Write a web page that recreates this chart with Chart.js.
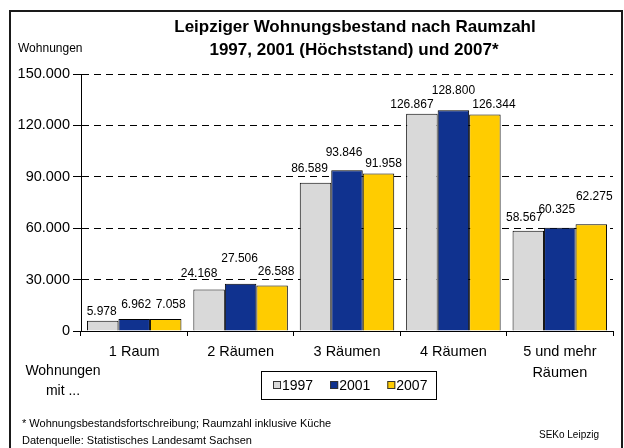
<!DOCTYPE html>
<html>
<head>
<meta charset="utf-8">
<script src="https://cdn.jsdelivr.net/npm/chart.js@4.4.1/dist/chart.umd.min.js"></script>
<style>
  html, body { margin: 0; padding: 0; background: #fff; }
  #wrap { width: 624px; height: 448px; }
</style>
</head>
<body>
<div id="wrap"><canvas id="roomChart" width="624" height="448"></canvas></div>
<script>
// data
const categories = ["1 Raum", "2 Räumen", "3 Räumen", "4 Räumen", ["5 und mehr", "Räumen"]];
const years = ["1997", "2001", "2007"];
const values1997 = [5978, 24168, 86589, 126867, 58567];
const values2001 = [6962, 27506, 93846, 128800, 60325];
const values2007 = [7058, 26588, 91958, 126344, 62275];
const yTicks = [0, 30000, 60000, 90000, 120000, 150000];

const FONT = "'Liberation Sans', Arial, sans-serif";
const colors = ["#d9d9d9", "#10328f", "#ffcc00"];

// label nudges (dx, dy from bar top centre), Excel places them a bit unevenly
const labelNudge = [
  [[-1, -9], [-10, -16], [-6, -14], [-10, -9], [-4, -13]],
  [[2, -14], [-1, -25], [-3, -18], [0, -20], [-3, -18]],
  [[5, -14], [4, -14], [5, -10], [9, -10], [3, -28]],
];

// german thousands separator
function fmt(v) {
  return String(v).replace(/\B(?=(\d{3})+(?!\d))/g, ".");
}

//#region plugins
const framePlugin = {
  id: "frame",
  beforeDraw(chart) {
    const ctx = chart.ctx;
    ctx.save();
    ctx.fillStyle = "#fff";
    ctx.fillRect(0, 0, chart.width, chart.height);
    ctx.restore();
  },
  afterDraw(chart) {
    const ctx = chart.ctx;
    ctx.save();

    // outer frame
    ctx.strokeStyle = "#1a1a1a";
    ctx.lineWidth = 2;
    ctx.strokeRect(10, 11, 612, 470);

    ctx.fillStyle = "#000";
    ctx.textBaseline = "middle";

    // title
    ctx.font = "bold 17px " + FONT;
    ctx.textAlign = "center";
    ctx.fillText("Leipziger Wohnungsbestand nach Raumzahl", 355, 27);
    ctx.fillText("1997, 2001 (Höchststand) und 2007*", 354, 50);

    // axis title
    ctx.font = "12px " + FONT;
    ctx.textAlign = "left";
    ctx.fillText("Wohnungen", 18, 49);

    ctx.font = "14px " + FONT;
    ctx.textAlign = "center";
    ctx.fillText("Wohnungen", 63, 371);
    ctx.fillText("mit ...", 63, 391);

    // footnotes
    ctx.font = "11px " + FONT;
    ctx.textAlign = "left";
    ctx.fillText("* Wohnungsbestandsfortschreibung; Raumzahl inklusive Küche", 22, 424);
    ctx.fillText("Datenquelle: Statistisches Landesamt Sachsen", 22, 441);
    ctx.font = "10px " + FONT;
    ctx.textAlign = "right";
    ctx.fillText("SEKo Leipzig", 599, 435);

    // legend box
    ctx.strokeStyle = "#000";
    ctx.lineWidth = 1;
    ctx.strokeRect(261.5, 371.5, 175, 28);
    ctx.font = "14px " + FONT;
    ctx.textAlign = "left";
    let x = 273;
    chart.data.datasets.forEach((ds) => {
      ctx.fillStyle = ds.backgroundColor;
      ctx.fillRect(x, 381, 8, 8);
      ctx.strokeStyle = "#333";
      ctx.strokeRect(x + 0.5, 381.5, 7, 7);
      ctx.fillStyle = "#000";
      ctx.fillText(ds.label, x + 9, 386);
      x += 9 + ctx.measureText(ds.label).width + 17;
    });

    ctx.restore();
  },
};

const valueLabels = {
  id: "valueLabels",
  afterDatasetsDraw(chart) {
    const ctx = chart.ctx;
    ctx.save();
    ctx.font = "12px " + FONT;
    ctx.fillStyle = "#000";
    ctx.textAlign = "center";
    ctx.textBaseline = "middle";
    chart.data.datasets.forEach((ds, di) => {
      const meta = chart.getDatasetMeta(di);
      meta.data.forEach((bar, i) => {
        const n = labelNudge[di][i];
        ctx.fillText(fmt(ds.data[i]), bar.x + n[0], bar.y + n[1]);
      });
    });
    ctx.restore();
  },
};
//#endregion

const ctx = document.getElementById("roomChart").getContext("2d");

new Chart(ctx, {
  type: "bar",
  data: {
    labels: categories,
    datasets: [
      { label: years[0], data: values1997, backgroundColor: colors[0] },
      { label: years[1], data: values2001, backgroundColor: colors[1] },
      { label: years[2], data: values2007, backgroundColor: colors[2] },
    ],
  },
  options: {
    responsive: false,
    animation: false,
    devicePixelRatio: 1,
    layout: { padding: { top: 74, right: 11, left: 0, bottom: 0 } },
    datasets: {
      bar: {
        borderColor: "#000",
        borderWidth: 1,
        categoryPercentage: 0.888,
        barPercentage: 1,
      },
    },
    plugins: {
      legend: { display: false },
      title: { display: false },
      tooltip: { enabled: false },
    },
    scales: {
      x: {
        afterFit: (s) => { s.height = 117; },
        grid: {
          drawOnChartArea: false,
          color: "#000",
          tickLength: 5,
          offset: true,
        },
        border: { display: true, color: "#000" },
        ticks: {
          color: "#000",
          font: { family: FONT, size: 14.5, lineHeight: 1.42 },
          padding: 6,
          maxRotation: 0,
          autoSkip: false,
        },
      },
      y: {
        min: 0,
        max: 150000,
        afterFit: (s) => { s.width = 81; },
        afterBuildTicks: (s) => { s.ticks = yTicks.map((v) => ({ value: v })); },
        grid: {
          color: "#000",
          tickLength: 8,
          tickColor: "#000",
        },
        border: { display: true, color: "#000", dash: [7, 5] },
        ticks: {
          color: "#000",
          font: { family: FONT, size: 14.5 },
          padding: 3,
          callback: (v) => fmt(v),
        },
      },
    },
  },
  plugins: [framePlugin, valueLabels],
});
</script>
</body>
</html>
